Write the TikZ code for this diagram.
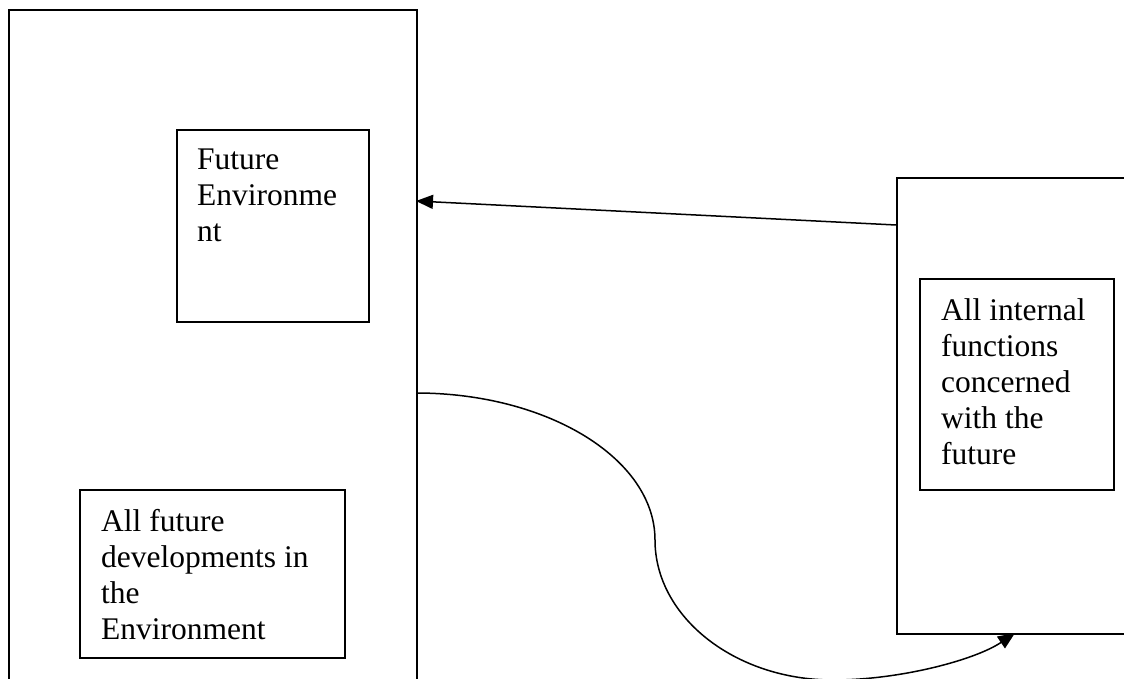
\documentclass[tikz,border=0pt]{standalone}
\usepackage{fontspec}
\setmainfont{Liberation Serif}
\usetikzlibrary{arrows.meta}
\begin{document}
\begin{tikzpicture}[x=1pt,y=-1pt,
  frame/.style={draw, line width=2pt, anchor=north west, inner sep=0pt},
  txt/.style={anchor=north west, inner sep=0pt, align=left, font=\fontsize{31.5}{36}\selectfont},
  conn/.style={line width=1.5pt, -{Triangle[length=17pt,width=14pt]}}]
\useasboundingbox (0,0) rectangle (1124,679);
% big left box (open at the bottom edge of the page)
\node[frame, minimum width=408pt, minimum height=720pt] (env) at (8,9) {};
% right box (runs past the right edge)
\node[frame, minimum width=300pt, minimum height=456pt] (org) at (896,177) {};
% inner boxes
\node[frame, minimum width=192pt, minimum height=192pt] (fe) at (176,129) {};
\node[frame, minimum width=265pt, minimum height=168pt] (afd) at (79,489) {};
\node[frame, minimum width=194pt, minimum height=211pt] (aif) at (919,278) {};
% texts
\node[txt] (tfe) at (197,149) {Future\\Environme\\nt};
\node[txt] (tafd) at (101,509) {All future\\developments in\\the\\Environment};
\node[txt] (taif) at (941,298) {All internal\\functions\\concerned\\with the\\future};
% connector points on the borders
\coordinate (p1) at (896,225);
\coordinate (p2) at (416,201);
\coordinate (q1) at (416,393);
\coordinate (qm) at (655,540);
\coordinate (qb) at (833,680);
\coordinate (q2) at (1015,633);
\draw[conn] (p1) -- (p2);
\draw[conn] (q1) .. controls (548,393) and (655,459) .. (qm)
  .. controls (655,617) and (735,680) .. (qb)
  .. controls (900,680) and (975,660) .. (q2);
\end{tikzpicture}
\end{document}
